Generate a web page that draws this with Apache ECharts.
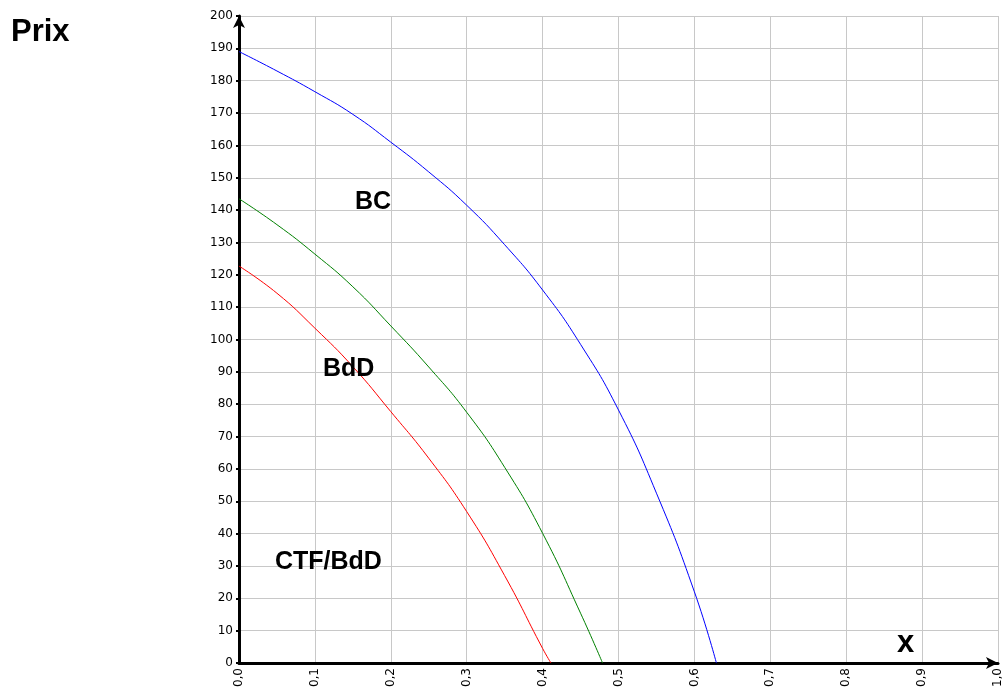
<!DOCTYPE html>
<html>
<head>
<meta charset="utf-8">
<title>Prix</title>
<script src="https://cdn.jsdelivr.net/npm/echarts@6/dist/echarts.min.js"></script>
<style>
  html, body { margin: 0; padding: 0; background: #fff; }
  #chart { width: 1006px; height: 693px; }
</style>
</head>
<body>
<div id="chart"></div>
<script>
// valeurs
const bcX = [0, 0.05, 0.1, 0.15, 0.2, 0.25, 0.3, 0.35, 0.4, 0.45, 0.5, 0.55, 0.6, 0.629];
const bcY = [189, 183, 176.6, 169.6, 161, 151.8, 141.5, 129.3, 115.3, 98.5, 78.2, 52.5, 22, 0];

const bddX = [0, 0.05, 0.1, 0.15, 0.2, 0.25, 0.3, 0.35, 0.4, 0.45, 0.479];
const bddY = [143.5, 135.5, 126.4, 116.3, 104.2, 91.5, 77.5, 60.5, 40.1, 15.4, 0];

const ctfX = [0, 0.05, 0.1, 0.15, 0.2, 0.25, 0.3, 0.35, 0.4, 0.411];
const ctfY = [122.7, 114.3, 103.5, 91.6, 77.7, 63.3, 46.8, 27, 4.5, 0];

const pairs = (xs, ys) => xs.map((x, i) => [x, ys[i]]);

let myChart = echarts.init(document.getElementById('chart'));

const tickFont = '"DejaVu Sans", Verdana, sans-serif';
const boldFont = '"Liberation Sans", Arial, sans-serif';

// cadre haut / droit : axes secondaires sans étiquettes
const frameAxis = {
    type: 'value',
    axisLine: { show: true, lineStyle: { color: '#000', width: 1 } },
    axisTick: { show: false },
    axisLabel: { show: false },
    splitLine: { show: false }
};

const curve = (name, color, xs, ys) => ({
    name: name,
    type: 'line',
    smooth: 0.5,
    symbol: 'none',
    lineStyle: { color: color, width: 1 },
    data: pairs(xs, ys)
});

const label = (text, left, top, size) => ({
    type: 'text',
    left: left,
    top: top,
    z: 100,
    style: { text: text, fontSize: size, fontWeight: 'bold', fontFamily: boldFont, fill: '#000' }
});

let option = {
    animation: false,
    grid: {
        left: 239,
        top: 16,
        right: 8,
        bottom: 30
    },
    xAxis: [
        {
            type: 'value',
            min: 0,
            max: 1,
            interval: 0.1,
            axisLine: {
                show: true,
                onZero: false,
                symbol: ['none', 'arrow'],
                symbolSize: [9, 12],
                lineStyle: { color: '#000', width: 3 }
            },
            axisTick: { show: false },
            axisLabel: {
                rotate: 90,
                margin: 5,
                color: '#000',
                fontSize: 12,
                fontFamily: tickFont,
                formatter: v => v.toFixed(1).replace('.', ',')
            },
            splitLine: { lineStyle: { color: '#c8c8c8', width: 1 } }
        },
        Object.assign({ position: 'top', min: 0, max: 1 }, frameAxis)
    ],
    yAxis: [
        {
            type: 'value',
            min: 0,
            max: 200,
            interval: 10,
            axisLine: {
                show: true,
                onZero: false,
                symbol: ['none', 'arrow'],
                symbolSize: [9, 12],
                lineStyle: { color: '#000', width: 3 }
            },
            axisTick: { show: true, length: 3, lineStyle: { color: '#000', width: 2 } },
            axisLabel: {
                margin: 6,
                color: '#000',
                fontSize: 12,
                fontFamily: tickFont
            },
            splitLine: { lineStyle: { color: '#c8c8c8', width: 1 } }
        },
        Object.assign({ position: 'right', min: 0, max: 200 }, frameAxis)
    ],
    series: [
        curve('BC', '#0000ff', bcX, bcY),
        curve('BdD', '#008000', bddX, bddY),
        curve('CTF/BdD', '#ff0000', ctfX, ctfY)
    ],
    graphic: [
        label('Prix', 11, 17, 31),
        label('BC', 355, 190, 25),
        label('BdD', 323, 357, 25),
        label('CTF/BdD', 275, 550, 25),
        label('x', 897, 628, 31)
    ]
};

myChart.setOption(option);
window.onresize = () => {
    myChart.resize()
}
</script>
</body>
</html>
